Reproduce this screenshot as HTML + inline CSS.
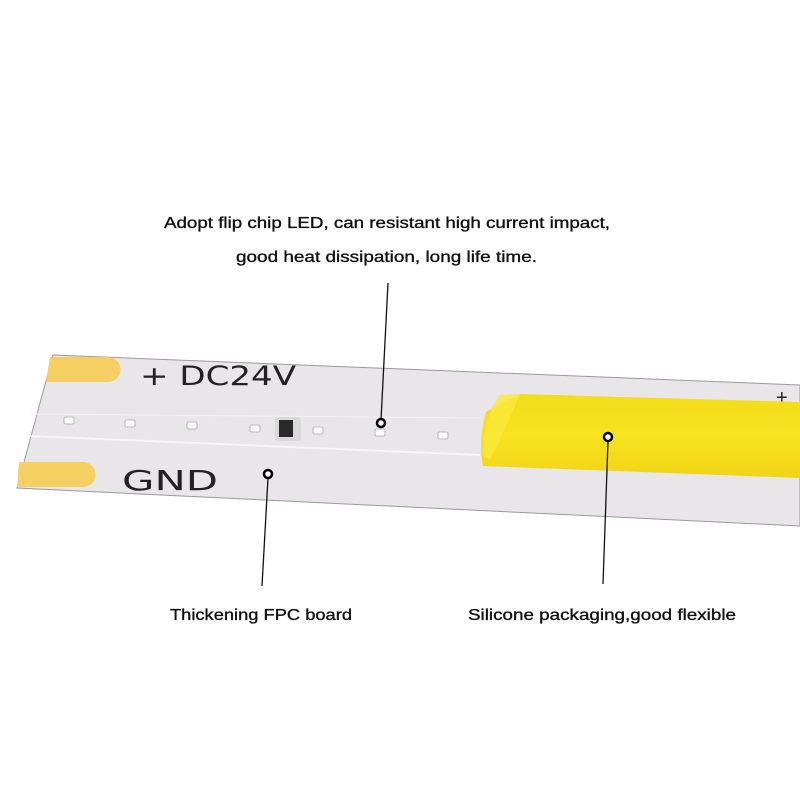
<!DOCTYPE html>
<html><head><meta charset="utf-8"><style>html,body{margin:0;padding:0;background:#fff}svg{display:block}</style></head>
<body>
<svg width="800" height="800" viewBox="0 0 800 800" xmlns="http://www.w3.org/2000/svg">
<defs>
<linearGradient id="sil" x1="0" y1="0" x2="0" y2="1">
<stop offset="0" stop-color="#f3dc1a"/><stop offset="0.5" stop-color="#f7e21f"/><stop offset="1" stop-color="#f1d515"/>
</linearGradient>
</defs>
<rect width="800" height="800" fill="#fff"/>
<polygon points="53,355 800,385 800,526 17,488" fill="#e8e6e8" stroke="#9a9a9a" stroke-width="1"/>
<line x1="30" y1="436" x2="480" y2="455" stroke="#f6f6f6" stroke-width="2"/>
<line x1="30" y1="414" x2="480" y2="418" stroke="#f3f3f3" stroke-width="1"/>
<path d="M50,357 H108 A12.5,12.5 0 0 1 108,382 H46 Z" fill="#f6cf62"/>
<path d="M19,462 H83 A12.5,12.5 0 0 1 83,487 H17 Z" fill="#f6cf62"/>
<text x="140" y="385" font-family="DejaVu Sans, sans-serif" font-size="27" fill="#222" textLength="156" lengthAdjust="spacingAndGlyphs">+ DC24V</text>
<text x="122" y="490" font-family="DejaVu Sans, sans-serif" font-size="28" fill="#222" textLength="96" lengthAdjust="spacingAndGlyphs">GND</text>
<text x="776" y="404" font-family="Liberation Sans, sans-serif" font-size="20" fill="#222">+</text>
<g fill="#fafafa" stroke="#aaa" stroke-width="0.8">
<rect x="64" y="417" width="10" height="7" rx="1.5"/>
<rect x="125" y="420" width="10" height="7" rx="1.5"/>
<rect x="187" y="422" width="10" height="7" rx="1.5"/>
<rect x="250" y="425" width="10" height="7" rx="1.5"/>
<rect x="313" y="427" width="10" height="7" rx="1.5"/>
<rect x="375" y="429" width="10" height="7" rx="1.5"/>
<rect x="438" y="432" width="10" height="7" rx="1.5"/>
</g>
<rect x="275" y="417" width="26" height="24" rx="3" fill="#d8d8d8"/>
<rect x="279" y="420" width="14" height="17" fill="#2a2a2a"/>
<path d="M520,394 L800,402 L800,478 L483,466 Q478,440 486,412 Z" fill="url(#sil)"/>
<path d="M520,394 L500,395 Q484,415 483,455 L490,460 Q505,430 520,394 Z" fill="#fbe83a" opacity="0.8"/>
<g stroke="#111" stroke-width="1.3" fill="none">
<line x1="388" y1="283" x2="381" y2="420"/>
<line x1="268" y1="478" x2="262" y2="586"/>
<line x1="608" y1="441" x2="603" y2="584"/>
</g>
<g fill="#fff" stroke="#000" stroke-width="2.5">
<circle cx="381" cy="423" r="4"/>
<circle cx="268" cy="474" r="4"/>
<circle cx="608" cy="437" r="4"/>
</g>
<g font-family="Liberation Sans, sans-serif" font-size="16" fill="#111" stroke="#111" stroke-width="0.35">
<text x="164" y="228" textLength="446" lengthAdjust="spacingAndGlyphs">Adopt flip chip LED, can resistant high current impact,</text>
<text x="236" y="262" textLength="301" lengthAdjust="spacingAndGlyphs">good heat dissipation, long life time.</text>
<text x="170" y="620" textLength="182" lengthAdjust="spacingAndGlyphs">Thickening FPC board</text>
<text x="468" y="620" textLength="268" lengthAdjust="spacingAndGlyphs">Silicone packaging,good flexible</text>
</g>
</svg>
</body></html>
